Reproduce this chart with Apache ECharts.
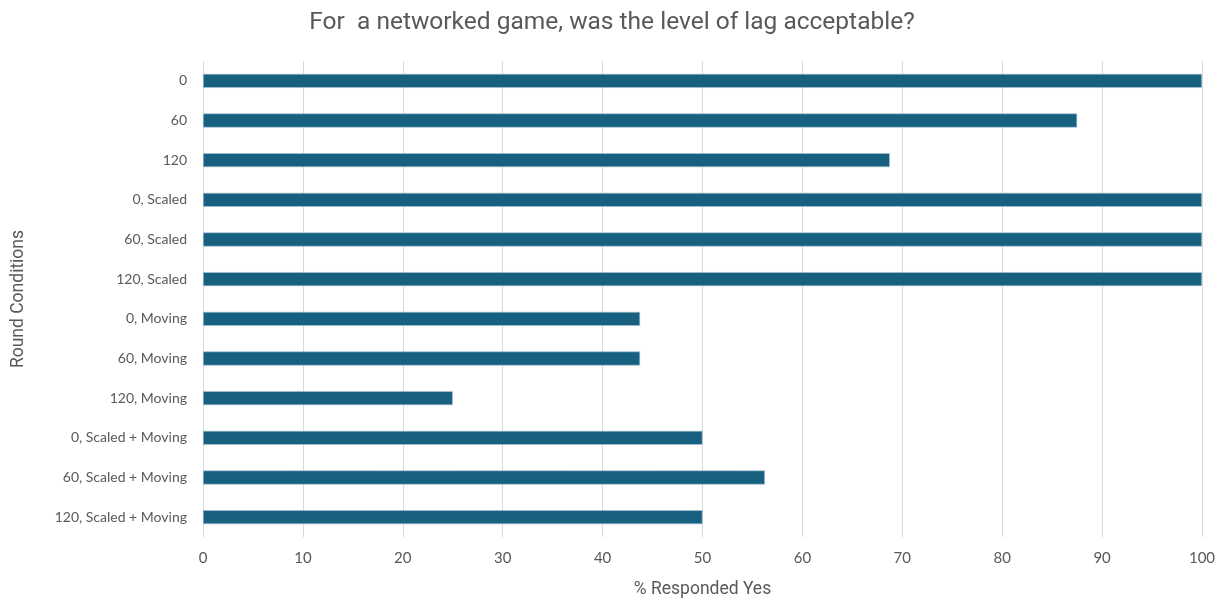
<!DOCTYPE html>
<html lang="en">
<head>
    <meta charset="UTF-8">
    <title>Lag acceptability</title>
    <script src="https://cdn.jsdelivr.net/npm/echarts@6/dist/echarts.min.js"></script>
    <style>
        html, body { margin: 0; padding: 0; background: #fff; }
        #chart { width: 1224px; height: 601px; }
    </style>
</head>
<body>
<div id="chart"></div>
<script>
    var categories = ['0', '60', '120', '0, Scaled', '60, Scaled', '120, Scaled',
        '0, Moving', '60, Moving', '120, Moving',
        '0, Scaled + Moving', '60, Scaled + Moving', '120, Scaled + Moving'];
    var yesPercent = [100, 87.5, 68.75, 100, 100, 100, 43.75, 43.75, 25, 50, 56.25, 50];
    var xTicks = [0, 10, 20, 30, 40, 50, 60, 70, 80, 90, 100];

    var font = 'Lato, "Open Sans", sans-serif';
    var nameFont = 'Roboto, Lato, sans-serif';
    var myChart = echarts.init(document.getElementById('chart'));

    var option = {
        animation: false,
        title: {
            text: 'For  a networked game, was the level of lag acceptable?',
            left: 'center',
            top: 5,
            textStyle: { fontFamily: nameFont, fontSize: 24.5, fontWeight: 'normal', color: '#595959' }
        },
        grid: { left: 203, right: 22, top: 61, bottom: 64, outerBoundsMode: 'none' },
        xAxis: {
            type: 'value',
            min: xTicks[0],
            max: xTicks[xTicks.length - 1],
            interval: 10,
            name: '% Responded Yes',
            nameLocation: 'middle',
            nameGap: 44,
            nameTextStyle: { fontFamily: nameFont, fontSize: 17.5, color: '#595959' },
            axisLine: { show: false },
            axisTick: { show: false },
            axisLabel: { fontFamily: font, fontSize: 15, color: '#595959', margin: 14 },
            splitLine: { lineStyle: { color: '#d9d9d9', width: 1 } }
        },
        yAxis: {
            type: 'category',
            data: categories,
            inverse: true,
            name: 'Round Conditions',
            nameLocation: 'middle',
            nameGap: 175,
            nameTextStyle: { fontFamily: nameFont, fontSize: 17.5, color: '#595959' },
            axisLine: { show: false },
            axisTick: { show: false },
            axisLabel: { fontFamily: font, fontSize: 14, color: '#595959', margin: 16 }
        },
        series: [{
            type: 'bar',
            data: yesPercent,
            barWidth: 14,
            itemStyle: { color: '#17607f', borderColor: '#a9c6d6', borderWidth: 0.6 }
        }]
    };

    myChart.setOption(option);
</script>
</body>
</html>
